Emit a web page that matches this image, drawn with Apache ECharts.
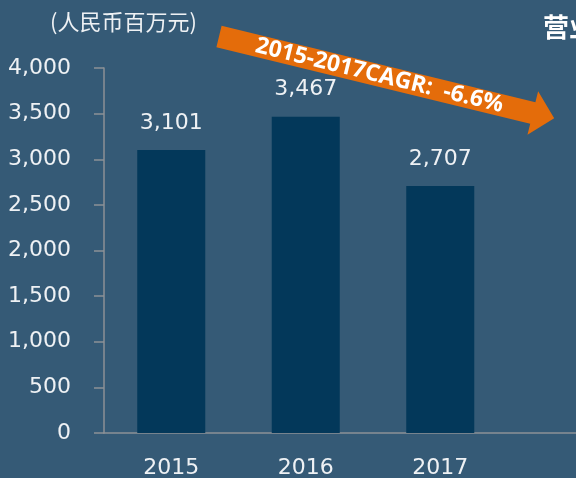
<!DOCTYPE html>
<html>
<head>
<meta charset="utf-8">
<script src="https://cdn.jsdelivr.net/npm/echarts@6/dist/echarts.min.js"></script>
<style>
  html, body { margin: 0; padding: 0; background: #355a76; }
</style>
</head>
<body>
<div id="main" style="width: 576px; height: 478px;"></div>
<script>
// 数据
var years = ['2015', '2016', '2017', '']
var revenue = [3101, 3467, 2707, null]
var yTicks = [0, 500, 1000, 1500, 2000, 2500, 3000, 3500, 4000]
var unitText = '(人民币百万元)'
var cagrText = '2015-2017CAGR:  -6.6%'

function addCommas (v) {
  return String(v).replace(/\B(?=(\d{3})+(?!\d))/g, ',')
}

var txtColor = '#eef1f4'
var font = 'DejaVu Sans'
var angle = -13.7 * Math.PI / 180

var myChart = echarts.init(document.getElementById('main'))
myChart.setOption({
  backgroundColor: '#355a76',
  animation: false,
  title: {
    text: unitText,
    left: 45,
    top: 6,
    textStyle: { color: txtColor, fontSize: 22, fontWeight: 'normal', fontFamily: 'Noto Sans CJK SC' }
  },
  // 第四格留空，让横轴延伸到右边（超出画布）
  grid: { left: 104, top: 68, bottom: 45, width: 538, outerBoundsMode: 'none', containLabel: false },
  xAxis: {
    type: 'category',
    data: years,
    axisLine: { lineStyle: { color: '#8c9196', width: 1.5 } },
    axisTick: { show: false },
    axisLabel: { color: txtColor, fontSize: 22, fontFamily: font, margin: 24 }
  },
  yAxis: {
    type: 'value',
    min: yTicks[0],
    max: yTicks[yTicks.length - 1],
    interval: 500,
    splitLine: { show: false },
    axisLine: { show: true, lineStyle: { color: '#8c9196', width: 1.5 } },
    axisTick: { show: true, length: 10, lineStyle: { color: '#8c9196', width: 1.5 } },
    axisLabel: {
      color: txtColor, fontSize: 22, fontFamily: font, margin: 33,
      formatter: function (v) { return addCommas(v) }
    }
  },
  series: [{
    type: 'bar',
    data: revenue,
    barWidth: 68,
    itemStyle: { color: '#03385a' },
    label: {
      show: true,
      position: 'top',
      distance: 16,
      color: txtColor,
      fontSize: 22,
      fontFamily: font,
      formatter: function (p) { return addCommas(p.value) }
    }
  }],
  graphic: [
    {
      type: 'group',
      x: 219,
      y: 36.5,
      rotation: angle,
      children: [
        {
          type: 'polygon',
          shape: { points: [[0, -11], [323, -11], [323, -22.5], [345, 0], [323, 22.5], [323, 11], [0, 11]] },
          style: { fill: '#e46c0a' }
        },
        {
          type: 'text',
          x: 165,
          y: 0,
          style: {
            text: cagrText,
            fill: '#ffffff',
            font: 'bold 23px "Open Sans"',
            align: 'center',
            verticalAlign: 'middle'
          }
        }
      ]
    },
    {
      type: 'text',
      left: 543,
      top: 14,
      style: { text: '营业收入', fill: '#ffffff', font: 'bold 26px "Noto Sans CJK SC"' }
    }
  ]
})
</script>
</body>
</html>
